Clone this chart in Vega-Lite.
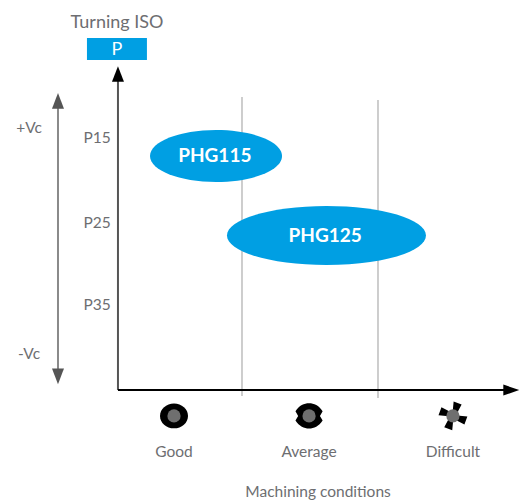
{
"$schema":"https://vega.github.io/schema/vega-lite/v6.json",
"width":529,"height":502,"padding":0,
"autosize":{"type":"fit","contains":"padding"},
"background":"white",
"config":{"view":{"stroke":null},"text":{"font":"Lato"}},
"encoding":{
"x":{"field":"cond","type":"quantitative","scale":{"domain":[-0.7794,3.1103],"nice":false,"zero":false},"axis":null},
"y":{"field":"grade","type":"quantitative","scale":{"domain":[58.452,-1.3095],"nice":false,"zero":false},"axis":null}
},
"layer":[
{"data":{"values":[{"cond":1,"grade":10.24,"grade2":45.83},{"cond":2,"grade":10.6,"grade2":46.07}]},
 "mark":{"type":"rule","stroke":"#bdbdbd","strokeWidth":1.5},
 "encoding":{"y2":{"field":"grade2"}}},
{"data":{"values":[{"cond":-0.353,"grade":10.9,"grade2":43.3}]},
 "mark":{"type":"rule","stroke":"#8a8a8a","strokeWidth":2},
 "encoding":{"y2":{"field":"grade2"}}},
{"data":{"values":[{"cond":0.088,"grade":7.9,"grade2":45.12}]},
 "mark":{"type":"rule","stroke":"#555555","strokeWidth":2},
 "encoding":{"y2":{"field":"grade2"}}},
{"data":{"values":[{"cond":0.088,"cond2":2.97,"grade":45.12}]},
 "mark":{"type":"rule","stroke":"#000000","strokeWidth":2},
 "encoding":{"x2":{"field":"cond2"}}},
{"data":{"values":[{"cond":-0.353,"grade":10.7}]},
 "mark":{"type":"point","filled":true,"opacity":1,"fill":"#555555","size":144,"shape":"M0,-1.3L1,1.3L-1,1.3Z"}},
{"data":{"values":[{"cond":-0.353,"grade":43.5}]},
 "mark":{"type":"point","filled":true,"opacity":1,"fill":"#555555","size":144,"shape":"M0,1.3L1,-1.3L-1,-1.3Z"}},
{"data":{"values":[{"cond":0.088,"grade":7.5}]},
 "mark":{"type":"point","filled":true,"opacity":1,"fill":"#000000","size":144,"shape":"M0,-1.3L1,1.3L-1,1.3Z"}},
{"data":{"values":[{"cond":2.98,"grade":45.12}]},
 "mark":{"type":"point","filled":true,"opacity":1,"fill":"#000000","size":121,"shape":"M1.45,0L-1.45,1L-1.45,-1Z"}},
{"data":{"values":[{"cond":0.809,"grade":17.26}]},
 "mark":{"type":"point","filled":true,"opacity":1,"fill":"#009fe3","size":17424,"shape":"M-1,0C-1,-.218,-.552,-.394,0,-.394C.552,-.394,1,-.218,1,0C1,.218,.552,.394,0,.394C-.552,.394,-1,.218,-1,0Z"}},
{"data":{"values":[{"cond":1.621,"grade":26.73}]},
 "mark":{"type":"point","filled":true,"opacity":1,"fill":"#009fe3","size":39601,"shape":"M-1,0C-1,-.164,-.552,-.296,0,-.296C.552,-.296,1,-.164,1,0C1,.164,.552,.296,0,.296C-.552,.296,-1,.164,-1,0Z"}},
{"data":{"values":[{"cond":-0.14,"cond2":0.301,"grade":3.21,"grade2":5.83}]},
 "mark":{"type":"rect","fill":"#009fe3"},
 "encoding":{"x2":{"field":"cond2"},"y2":{"field":"grade2"}}},
{"data":{"values":[{"cond":0.5,"grade":48.2}]},
 "mark":{"type":"point","filled":true,"opacity":1,"fill":"#000000","size":784,"shape":"M-1,0C-1,-.49,-.552,-.89,0,-.89C.552,-.89,1,-.49,1,0C1,.49,.552,.89,0,.89C-.552,.89,-1,.49,-1,0Z"}},
{"data":{"values":[{"cond":1.493,"grade":48.2}]},
 "mark":{"type":"point","filled":true,"opacity":1,"fill":"#000000","size":784,"shape":"M-.97,-.33C-.7,-.75,-.35,-.9,0,-.9C.35,-.9,.7,-.75,.97,-.33L.78,0L.97,.33C.7,.75,.35,.9,0,.9C-.35,.9,-.7,.75,-.97,.33L-.78,0Z"}},
{"data":{"values":[{"cond":2.551,"grade":48.2}]},
 "mark":{"type":"point","filled":true,"opacity":1,"fill":"#000000","size":784,"shape":"M-.02,-.3L.05,-1.03L.62,-.82L.3,-.2ZM.3,-.02L1.03,.05L.82,.62L.2,.3ZM.02,.3L-.05,1.03L-.62,.82L-.3,.2ZM-.3,.02L-1.03,-.05L-.82,-.62L-.2,-.3Z"}},
{"data":{"values":[{"cond":0.5,"grade":48.2},{"cond":1.493,"grade":48.2},{"cond":2.551,"grade":48.2}]},
 "mark":{"type":"point","filled":true,"opacity":1,"fill":"#6f6f6f","size":175,"shape":"circle"}},
{"data":{"values":[
  {"cond":0.081,"grade":1.4,"label":"Turning ISO"}]},
 "mark":{"type":"text","fontSize":18,"fill":"#6d6e71","align":"center","baseline":"middle"},
 "encoding":{"text":{"field":"label"}}},
{"data":{"values":[
  {"cond":-0.566,"grade":13.93,"label":"+Vc"},
  {"cond":-0.566,"grade":40.83,"label":"-Vc"},
  {"cond":-0.066,"grade":15.12,"label":"P15"},
  {"cond":-0.066,"grade":25.24,"label":"P25"},
  {"cond":-0.066,"grade":35,"label":"P35"},
  {"cond":0.5,"grade":52.5,"label":"Good"},
  {"cond":1.493,"grade":52.5,"label":"Average"},
  {"cond":2.551,"grade":52.5,"label":"Difficult"},
  {"cond":1.559,"grade":57.26,"label":"Machining conditions"}]},
 "mark":{"type":"text","fontSize":15.5,"fill":"#6d6e71","align":"center","baseline":"middle"},
 "encoding":{"text":{"field":"label"}}},
{"data":{"values":[{"cond":0.081,"grade":4.7,"label":"P"}]},
 "mark":{"type":"text","fontSize":18,"fill":"#ffffff","align":"center","baseline":"middle"},
 "encoding":{"text":{"field":"label"}}},
{"data":{"values":[{"cond":0.8,"grade":17.3,"label":"PHG115"},{"cond":1.612,"grade":26.8,"label":"PHG125"}]},
 "mark":{"type":"text","fontSize":19,"fontWeight":"bold","fill":"#ffffff","align":"center","baseline":"middle"},
 "encoding":{"text":{"field":"label"}}}
]
}
